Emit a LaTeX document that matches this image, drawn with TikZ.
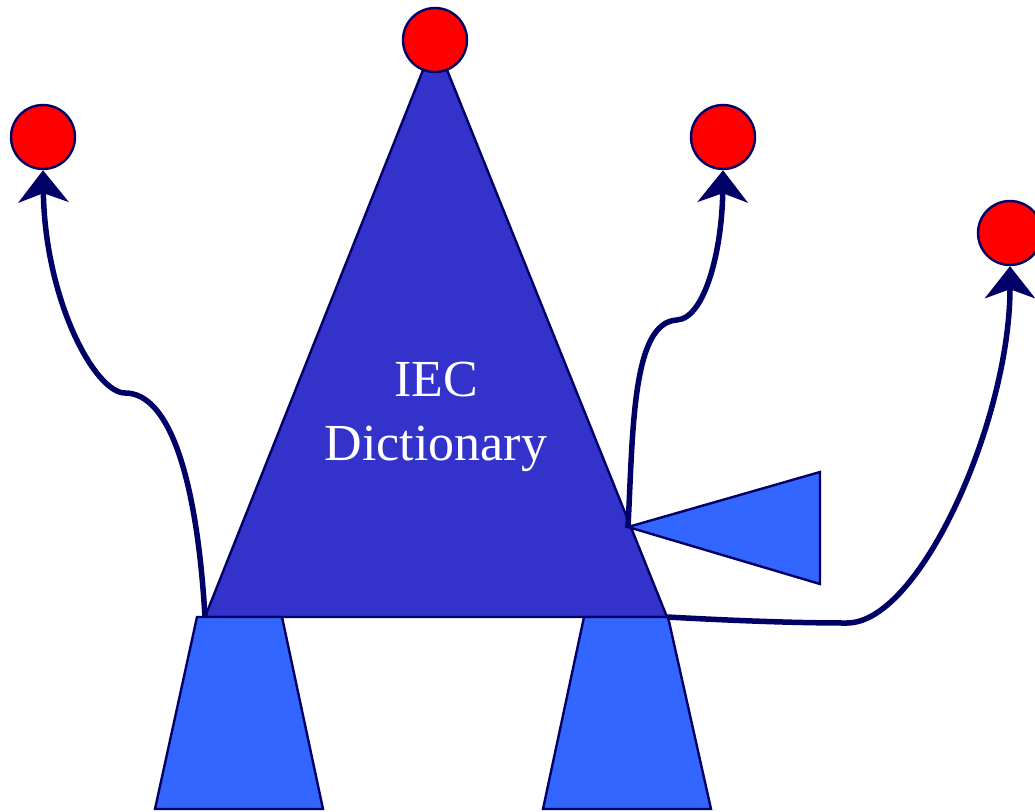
\documentclass[tikz,border=0pt]{standalone}
\usepackage{fontspec}
\setmainfont{Liberation Serif}
\usetikzlibrary{arrows.meta}
\definecolor{navy}{HTML}{000066}
\definecolor{bodyblue}{HTML}{3333CC}
\definecolor{legblue}{HTML}{3366FF}
\definecolor{ballred}{HTML}{FF0000}
\tikzset{
  shapeline/.style={draw=navy,line width=2.4pt,line join=miter},
  ball/.style={circle,draw=navy,line width=2.4pt,fill=ballred,minimum size=64pt,inner sep=0pt},
  link/.style={draw=navy,line width=5.5pt,-{Stealth[length=32pt,width=50pt,inset=9pt]}},
}
\begin{document}
\begin{tikzpicture}[x=1pt,y=-1pt]
\useasboundingbox (0,0) rectangle (1035,811);
% main triangle
\coordinate (apex) at (435,40);
\coordinate (baseL) at (205,617);
\coordinate (baseR) at (667,617);
\coordinate (tailroot) at (628,527);
\path[shapeline,fill=bodyblue] (apex) -- (baseR) -- (baseL) -- cycle;
% tail triangle
\path[shapeline,fill=legblue] (tailroot) -- (820,472) -- (820,584) -- cycle;
% legs
\path[shapeline,fill=legblue] (197,617) -- (282,617) -- (323,809) -- (155,809) -- cycle;
\path[shapeline,fill=legblue] (584,617) -- (668,617) -- (711,809) -- (543,809) -- cycle;
% text
\node[text=white,align=center,font=\fontsize{52}{64}\selectfont] (lbl) at (436,417) {IEC\\Dictionary};
% balls
\node[ball] (btop) at (435,40) {};
\node[ball] (bleft) at (43,137) {};
\node[ball] (bmid) at (723,137) {};
\node[ball] (bright) at (1010,233) {};
% connectors
\coordinate (k1) at (125,393);
\coordinate (k2) at (677,320);
\coordinate (k3) at (847,623);
\draw[link] (baseL) .. controls (197,480) and (170,393) .. (k1)
  .. controls (95,393) and (45,300) .. (bleft.south);
\draw[link] (tailroot) .. controls (633,430) and (632,322) .. (k2)
  .. controls (705,318) and (722,250) .. (bmid.south);
\draw[link] (baseR) .. controls (740,621) and (800,623) .. (k3)
  .. controls (920,623) and (1010,420) .. (bright.south);
\end{tikzpicture}
\end{document}
